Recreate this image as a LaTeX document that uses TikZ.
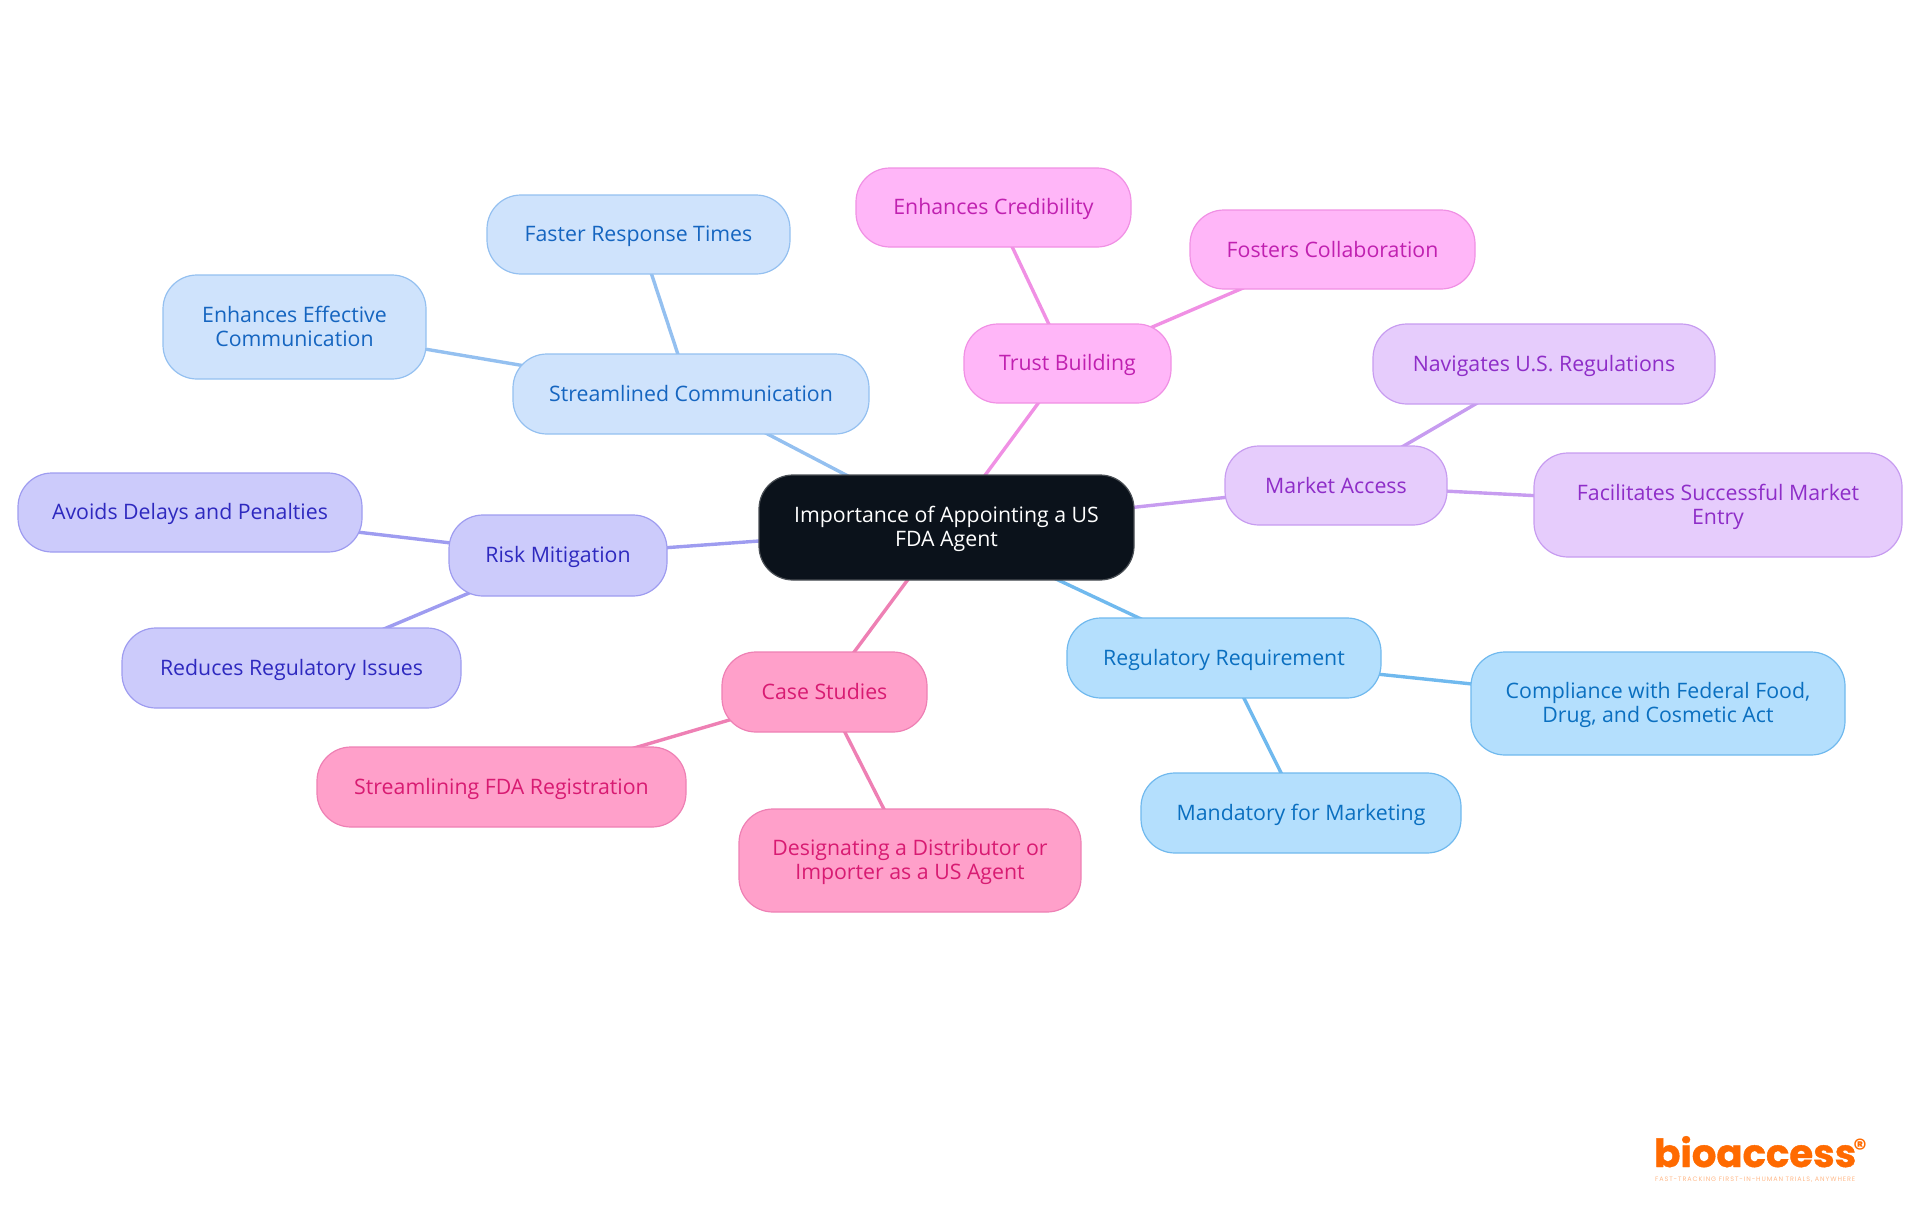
\documentclass[tikz,border=0pt]{standalone}
\usepackage{fontspec}
\setmainfont{Open Sans}
\newfontfamily\logofont{Poppins}
\usetikzlibrary{backgrounds}
\definecolor{bF}{HTML}{CFE3FC}\definecolor{bL}{HTML}{94C0F0}\definecolor{bT}{HTML}{1565C0}
\definecolor{iF}{HTML}{CCCBFB}\definecolor{iL}{HTML}{9E9CF0}\definecolor{iT}{HTML}{2E29BF}
\definecolor{pF}{HTML}{FFA0CA}\definecolor{pL}{HTML}{EE80B4}\definecolor{pT}{HTML}{D81B72}
\definecolor{sF}{HTML}{B4DFFD}\definecolor{sL}{HTML}{70B9EE}\definecolor{sT}{HTML}{0A6FC0}
\definecolor{mF}{HTML}{E6CCFC}\definecolor{mL}{HTML}{C79CF0}\definecolor{mT}{HTML}{8E2DC8}
\definecolor{tF}{HTML}{FFB6F8}\definecolor{tL}{HTML}{F090E4}\definecolor{tT}{HTML}{C020B0}
\definecolor{rootF}{HTML}{0B121B}\definecolor{rootL}{HTML}{4A4F55}
\definecolor{logoO}{HTML}{FF6A00}\definecolor{logoL}{HTML}{FFB98A}
\tikzset{
  x=1pt,y=-1pt,
  box/.style={rounded corners=34pt,line width=1.2pt,align=center,inner sep=0pt,
    font=\fontsize{21.3}{24}\selectfont},
  blueb/.style={box,fill=bF,draw=bL,text=bT},
  indb/.style={box,fill=iF,draw=iL,text=iT},
  pinkb/.style={box,fill=pF,draw=pL,text=pT},
  skyb/.style={box,fill=sF,draw=sL,text=sT},
  mauveb/.style={box,fill=mF,draw=mL,text=mT},
  trustb/.style={box,fill=tF,draw=tL,text=tT},
  rootb/.style={box,fill=rootF,draw=rootL,text=white},
  link/.style={line width=3.4pt}
}
\newcommand{\topst}{\rule{0pt}{19.8pt}}
\newcommand{\botst}{\rule[-4.2pt]{0pt}{4.2pt}}
\newcommand{\bx}[7]{\node[#1,minimum width=#5pt-#3pt,minimum height=#6pt-#4pt] (#2) at ({(#3+#5)/2},{(#4+#6)/2}) {\topst #7\botst};}
\begin{document}
\begin{tikzpicture}
\useasboundingbox (0,0) rectangle (1920,1215);
\bx{rootb}{root}{759}{475}{1134}{580}{Importance of Appointing a US\\FDA Agent}
\bx{blueb}{comm}{513}{354}{869}{434}{Streamlined Communication}
\bx{blueb}{fast}{487}{195}{790}{274}{Faster Response Times}
\bx{blueb}{effe}{163}{275}{426}{379}{Enhances Effective\\Communication}
\bx{indb}{risk}{449}{515}{667}{596}{Risk Mitigation}
\bx{indb}{avoi}{18}{473}{362}{552}{Avoids Delays and Penalties}
\bx{indb}{redu}{122}{628}{461}{708}{Reduces Regulatory Issues}
\bx{pinkb}{case}{722}{652}{927}{732}{Case Studies}
\bx{pinkb}{stre}{317}{747}{686}{827}{Streamlining FDA Registration}
\bx{pinkb}{desi}{739}{809}{1081}{912}{Designating a Distributor or\\Importer as a US Agent}
\bx{skyb}{regu}{1067}{618}{1381}{698}{Regulatory Requirement}
\bx{skyb}{comp}{1471}{652}{1845}{755}{Compliance with Federal Food,\\Drug, and Cosmetic Act}
\bx{skyb}{mand}{1141}{773}{1461}{853}{Mandatory for Marketing}
\bx{mauveb}{mark}{1225}{446}{1447}{525}{Market Access}
\bx{mauveb}{navi}{1373}{324}{1715}{404}{Navigates U.S. Regulations}
\bx{mauveb}{faci}{1534}{453}{1902}{557}{Facilitates Successful Market\\Entry}
\bx{trustb}{trus}{964}{324}{1171}{403}{Trust Building}
\bx{trustb}{cred}{856}{168}{1131}{247}{Enhances Credibility}
\bx{trustb}{fost}{1190}{210}{1475}{289}{Fosters Collaboration}
\begin{scope}[on background layer]
\draw[link,bL] (root.center)--(comm.center) (comm.center)--(fast.center) (comm.center)--(effe.center);
\draw[link,iL] (root.center)--(risk.center) (risk.center)--(avoi.center) (risk.center)--(redu.center);
\draw[link,pL] (root.center)--(case.center) (case.center)--(stre.center) (case.center)--(desi.center);
\draw[link,sL] (root.center)--(regu.center) (regu.center)--(comp.center) (regu.center)--(mand.center);
\draw[link,mL] (root.center)--(mark.center) (mark.center)--(navi.center) (mark.center)--(faci.center);
\draw[link,tL] (root.center)--(trus.center) (trus.center)--(cred.center) (trus.center)--(fost.center);
\end{scope}
\node[anchor=base west,inner sep=0pt,text=logoO] (logo) at (1654,1167)
  {\resizebox{202pt}{!}{\logofont\bfseries\addfontfeature{FakeBold=1}bioaccess}};
\node[anchor=center,inner sep=0pt,text=logoO,font=\logofont\bfseries\fontsize{26}{26}\selectfont] (reg) at (1860,1148) {®};
\node[anchor=base west,inner sep=0pt,text=logoL] (tag) at (1655,1181)
  {\resizebox{200pt}{!}{\logofont\fontsize{5.5}{6}\selectfont\addfontfeature{LetterSpace=14}FAST-TRACKING FIRST-IN-HUMAN TRIALS, ANYWHERE}};
\end{tikzpicture}
\end{document}
